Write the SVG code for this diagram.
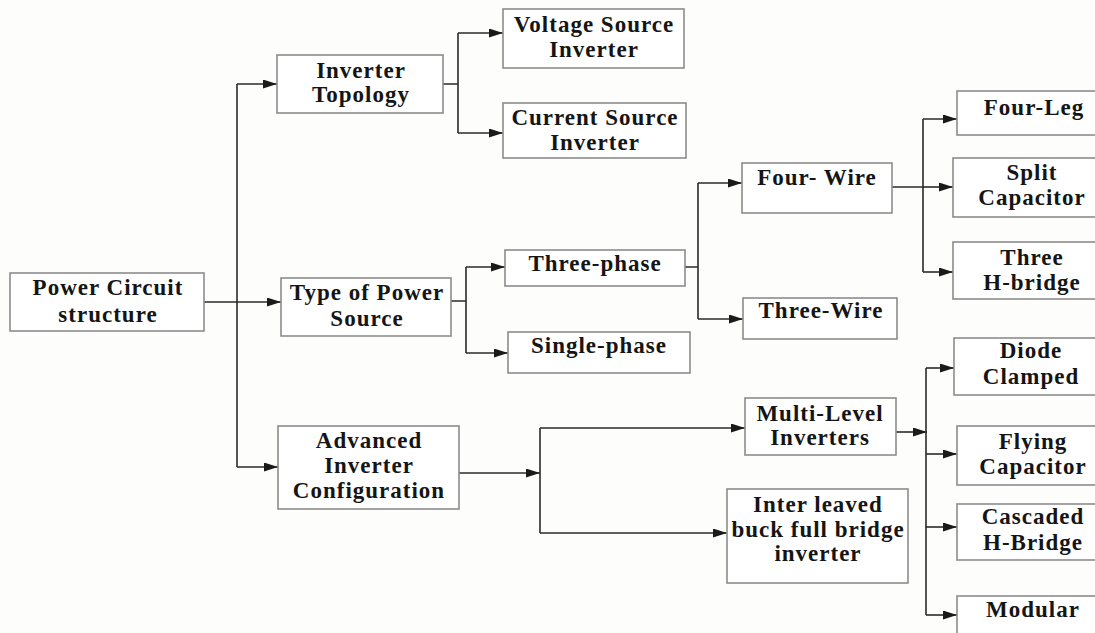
<svg xmlns="http://www.w3.org/2000/svg" width="1095" height="633" viewBox="0 0 1095 633">
<style>
.box{fill:#fff;stroke:#8c8c8c;stroke-width:1.6}
.t{font-family:"Liberation Serif","Times New Roman",serif;font-weight:bold;font-size:23px;letter-spacing:1px;fill:#151515;text-anchor:middle}
.c{fill:none;stroke:#2a2a2a;stroke-width:1.6}
</style>
<defs>
<marker id="ah" markerUnits="userSpaceOnUse" markerWidth="15" markerHeight="10" refX="14" refY="4.5" orient="auto">
<path d="M0,0 L14,4.5 L0,9 z" fill="#1a1a1a"/>
</marker>
</defs>
<rect width="1095" height="633" fill="#fdfdfb"/>
<g id="connectors">
<path class="c" d="M204,302 H281" marker-end="url(#ah)"/>
<path class="c" d="M237,84 V467"/>
<path class="c" d="M237,84 H277" marker-end="url(#ah)"/>
<path class="c" d="M237,467 H278" marker-end="url(#ah)"/>
<path class="c" d="M443,84 H458 M458,33 V133"/>
<path class="c" d="M458,33 H503" marker-end="url(#ah)"/>
<path class="c" d="M458,133 H503" marker-end="url(#ah)"/>
<path class="c" d="M451,301 H466 M466,267 V353"/>
<path class="c" d="M466,267 H505" marker-end="url(#ah)"/>
<path class="c" d="M466,353 H508" marker-end="url(#ah)"/>
<path class="c" d="M685,267 H698 M698,183 V319"/>
<path class="c" d="M698,183 H742" marker-end="url(#ah)"/>
<path class="c" d="M698,319 H743" marker-end="url(#ah)"/>
<path class="c" d="M892,187 H923 M923,119 V272"/>
<path class="c" d="M923,119 H957" marker-end="url(#ah)"/>
<path class="c" d="M923,187 H953" marker-end="url(#ah)"/>
<path class="c" d="M923,272 H953" marker-end="url(#ah)"/>
<path class="c" d="M459,473 H540" marker-end="url(#ah)"/>
<path class="c" d="M540,428 V533"/>
<path class="c" d="M540,428 H745" marker-end="url(#ah)"/>
<path class="c" d="M540,533 H727" marker-end="url(#ah)"/>
<path class="c" d="M896,432 H927" marker-end="url(#ah)"/>
<path class="c" d="M926,368 V615"/>
<path class="c" d="M926,368 H954" marker-end="url(#ah)"/>
<path class="c" d="M926,454 H957" marker-end="url(#ah)"/>
<path class="c" d="M926,527 H957" marker-end="url(#ah)"/>
<path class="c" d="M926,615 H957" marker-end="url(#ah)"/>
</g>
<g id="power-circuit"><rect class="box" x="10" y="273" width="194" height="58"/><text class="t" x="108" y="295">Power Circuit</text><text class="t" x="108" y="322">structure</text></g>
<g id="inverter-topology"><rect class="box" x="277" y="55" width="166" height="58"/><text class="t" x="361" y="78">Inverter</text><text class="t" x="361" y="102">Topology</text></g>
<g id="type-power-source"><rect class="box" x="281" y="278" width="170" height="58"/><text class="t" x="367" y="300">Type of Power</text><text class="t" x="367" y="326">Source</text></g>
<g id="advanced-config"><rect class="box" x="278" y="426" width="181" height="83"/><text class="t" x="369" y="448">Advanced</text><text class="t" x="369" y="473">Inverter</text><text class="t" x="369" y="498">Configuration</text></g>
<g id="vsi"><rect class="box" x="503" y="9" width="181" height="59"/><text class="t" x="594" y="32">Voltage Source</text><text class="t" x="594" y="57">Inverter</text></g>
<g id="csi"><rect class="box" x="503" y="103" width="183" height="55"/><text class="t" x="595" y="125">Current Source</text><text class="t" x="595" y="150">Inverter</text></g>
<g id="three-phase"><rect class="box" x="505" y="250" width="180" height="36"/><text class="t" x="595" y="271">Three-phase</text></g>
<g id="single-phase"><rect class="box" x="508" y="332" width="182" height="41"/><text class="t" x="599" y="353">Single-phase</text></g>
<g id="four-wire"><rect class="box" x="742" y="163" width="150" height="50"/><text class="t" x="817" y="185">Four- Wire</text></g>
<g id="three-wire"><rect class="box" x="743" y="298" width="154" height="41"/><text class="t" x="821" y="318">Three-Wire</text></g>
<g id="multi-level"><rect class="box" x="745" y="398" width="151" height="57"/><text class="t" x="820" y="421">Multi-Level</text><text class="t" x="820" y="445">Inverters</text></g>
<g id="interleaved"><rect class="box" x="727" y="489" width="181" height="94"/><text class="t" x="818" y="512">Inter leaved</text><text class="t" x="818" y="537">buck full bridge</text><text class="t" x="818" y="561">inverter</text></g>
<g id="four-leg"><rect class="box" x="957" y="91" width="160" height="44"/><text class="t" x="1034" y="115">Four-Leg</text></g>
<g id="split-capacitor"><rect class="box" x="953" y="158" width="160" height="59"/><text class="t" x="1032" y="180">Split</text><text class="t" x="1032" y="205">Capacitor</text></g>
<g id="three-h-bridge"><rect class="box" x="953" y="242" width="160" height="57"/><text class="t" x="1032" y="265">Three</text><text class="t" x="1032" y="290">H-bridge</text></g>
<g id="diode-clamped"><rect class="box" x="954" y="338" width="160" height="57"/><text class="t" x="1031" y="358">Diode</text><text class="t" x="1031" y="384">Clamped</text></g>
<g id="flying-capacitor"><rect class="box" x="957" y="426" width="160" height="59"/><text class="t" x="1033" y="449">Flying</text><text class="t" x="1033" y="474">Capacitor</text></g>
<g id="cascaded"><rect class="box" x="957" y="504" width="160" height="56"/><text class="t" x="1033" y="524">Cascaded</text><text class="t" x="1033" y="550">H-Bridge</text></g>
<g id="modular"><rect class="box" x="957" y="596" width="160" height="50"/><text class="t" x="1033" y="617">Modular</text></g>
</svg>
